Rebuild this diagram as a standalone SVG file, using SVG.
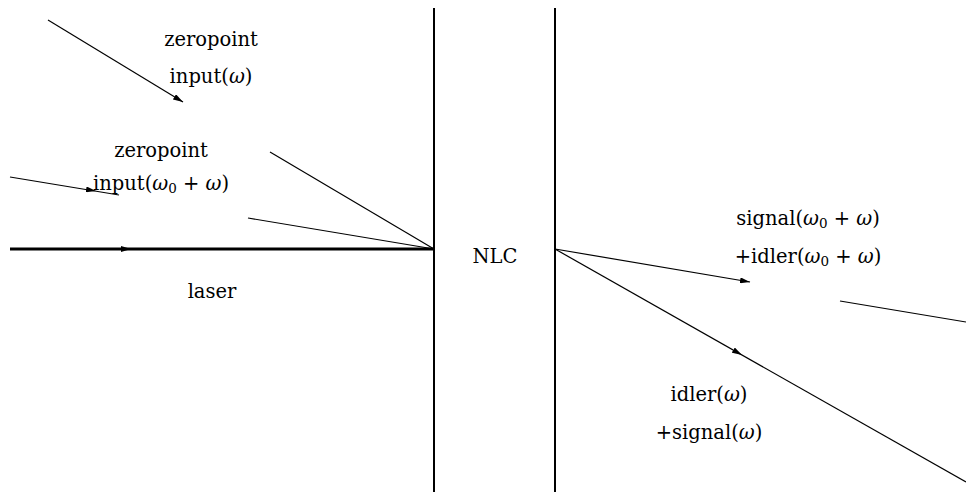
<svg xmlns="http://www.w3.org/2000/svg" width="966" height="501" viewBox="0 0 966 501">
<style>
text{font-family:"DejaVu Serif",serif;font-size:19.5px;fill:#000;text-anchor:middle}
.l{stroke:#000;stroke-width:1.2;fill:none}
.m{stroke:none;fill:none}
.t{stroke:#000;stroke-width:3;fill:none}
.w{stroke:#000;stroke-width:2;fill:none}
</style>
<defs>
<marker id="ah" viewBox="0 0 10 6" refX="10" refY="3" markerWidth="10" markerHeight="6" markerUnits="userSpaceOnUse" orient="auto"><path d="M0,0L10,3L0,6z" fill="#000"/></marker>
</defs>
<rect width="966" height="501" fill="#fff"/>
<g id="crystal">
<line class="w" x1="434" y1="8" x2="434" y2="492"/>
<line class="w" x1="555" y1="8" x2="555" y2="492"/>
<text x="495" y="263">NLC</text>
</g>
<g id="connectors">
<line class="t" x1="10" y1="249" x2="434" y2="249"/>
<line class="m" x1="10" y1="249" x2="131" y2="249" marker-end="url(#ah)"/>
<line class="l" x1="48" y1="20" x2="183" y2="102" marker-end="url(#ah)"/>
<line class="l" x1="10" y1="177" x2="119" y2="195"/>
<line class="m" x1="10" y1="177" x2="96" y2="191" marker-end="url(#ah)"/>
<line class="l" x1="270" y1="152" x2="434" y2="249"/>
<line class="l" x1="248" y1="218" x2="434" y2="249"/>
<line class="l" x1="555" y1="249" x2="750" y2="282" marker-end="url(#ah)"/>
<line class="l" x1="555" y1="249" x2="966" y2="482"/>
<line class="m" x1="555" y1="249" x2="742" y2="355" marker-end="url(#ah)"/>
<line class="l" x1="840" y1="301" x2="966" y2="322"/>
</g>
<g id="labels">
<text x="211" y="46">zeropoint</text>
<text x="211" y="83">input(<tspan font-style="italic">ω</tspan>)</text>
<text x="161" y="157">zeropoint</text>
<text x="161" y="190">input(<tspan font-style="italic">ω</tspan><tspan font-size="13.5" dy="3">0</tspan><tspan dy="-3"> + </tspan><tspan font-style="italic">ω</tspan>)</text>
<text x="212" y="298">laser</text>
<text x="808" y="225">signal(<tspan font-style="italic">ω</tspan><tspan font-size="13.5" dy="3">0</tspan><tspan dy="-3"> + </tspan><tspan font-style="italic">ω</tspan>)</text>
<text x="808" y="263">+idler(<tspan font-style="italic">ω</tspan><tspan font-size="13.5" dy="3">0</tspan><tspan dy="-3"> + </tspan><tspan font-style="italic">ω</tspan>)</text>
<text x="709" y="401">idler(<tspan font-style="italic">ω</tspan>)</text>
<text x="709" y="439">+signal(<tspan font-style="italic">ω</tspan>)</text>
</g>
</svg>
